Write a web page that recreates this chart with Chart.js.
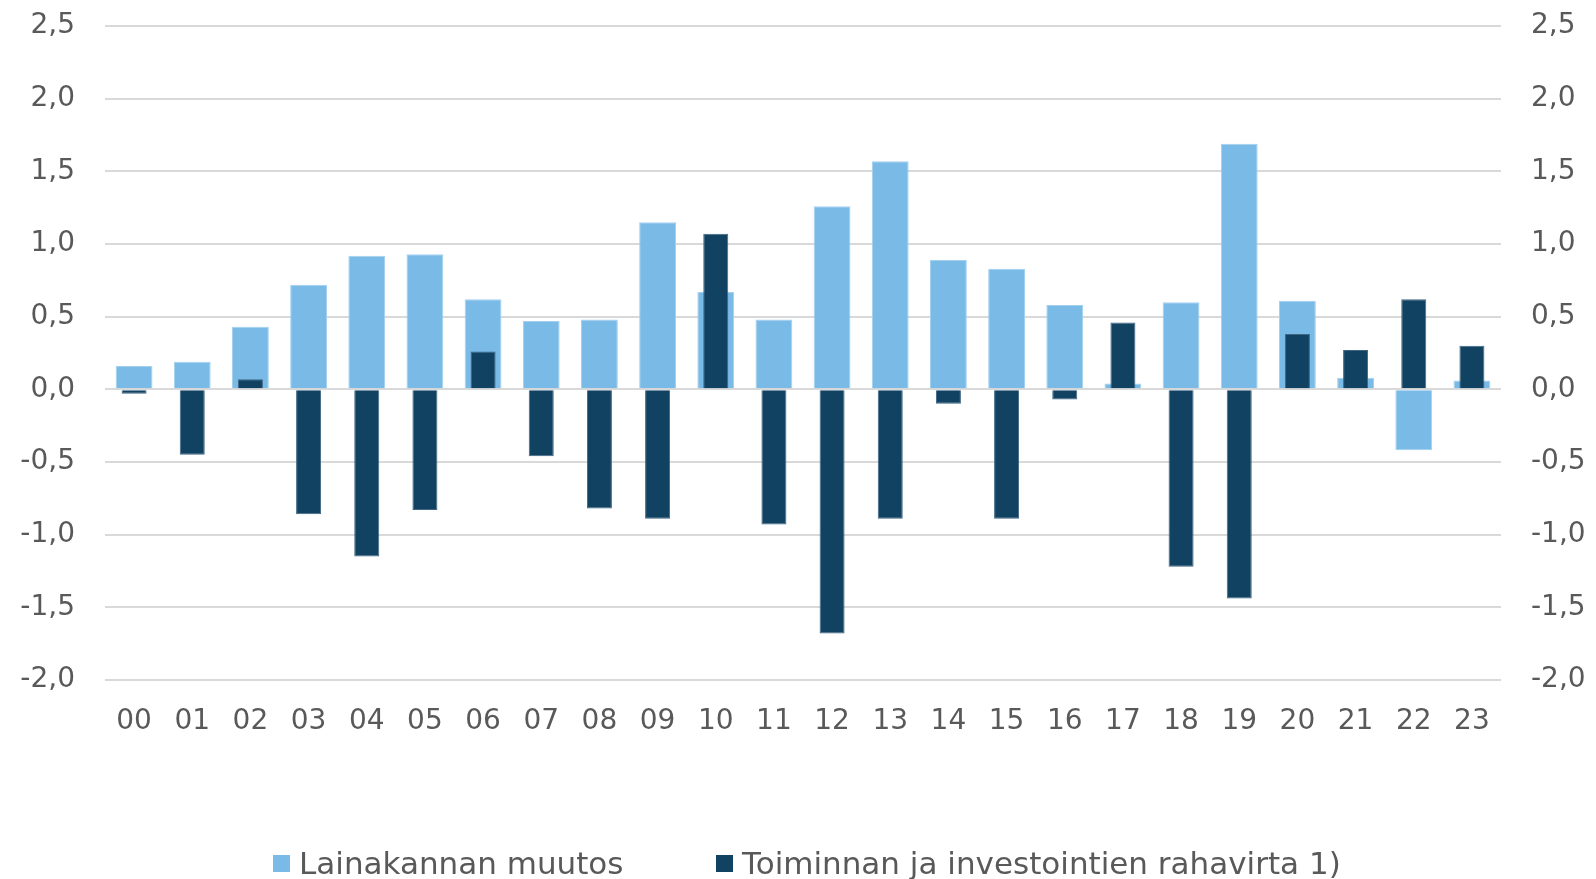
<!DOCTYPE html>
<html>
<head>
<meta charset="utf-8">
<script src="https://cdn.jsdelivr.net/npm/chart.js@4/dist/chart.umd.min.js"></script>
<style>
  html, body { margin: 0; padding: 0; background: #fff; overflow: hidden; }
  #wrap { position: relative; width: 1596px; height: 879px; }
  .leg { position: absolute; top: 846px; height: 34px; display: flex; align-items: center;
         font-family: "DejaVu Sans", sans-serif; font-size: 31px; color: #595959; white-space: nowrap; }
  .leg i { display: inline-block; width: 17px; height: 17px; margin-right: 9px; }
</style>
</head>
<body>
<div id="wrap">
  <canvas id="chart" width="1596" height="879"></canvas>
  <div class="leg" style="left:273px"><i style="background:#79bae7"></i><span id="lab0"></span></div>
  <div class="leg" style="left:716px"><i style="background:#124262"></i><span id="lab1"></span></div>
</div>
<script>
// Vuodet (x-akseli)
const years = ['00','01','02','03','04','05','06','07','08','09','10','11',
               '12','13','14','15','16','17','18','19','20','21','22','23'];

// Lainakannan muutos, mrd. euroa (luettu kuvasta)
const loanChange = [0.16, 0.19, 0.43, 0.72, 0.92, 0.93, 0.62, 0.47, 0.48, 1.15, 0.67, 0.48,
                    1.26, 1.57, 0.89, 0.83, 0.58, 0.04, 0.60, 1.69, 0.61, 0.08, -0.42, 0.06];

// Toiminnan ja investointien rahavirta
const cashFlow = [-0.03, -0.45, 0.07, -0.86, -1.15, -0.83, 0.26, -0.46, -0.82, -0.89, 1.07, -0.93,
                  -1.68, -0.89, -0.10, -0.89, -0.07, 0.46, -1.22, -1.44, 0.38, 0.27, 0.62, 0.30];

const seriesNames = ['Lainakannan muutos', 'Toiminnan ja investointien rahavirta 1)'];

const yMin = -2.0;
const yMax = 2.5;
const yStep = 0.5;

const tickColor = '#595959';
const gridColor = '#d9d9d9';
const tickFont = { family: 'DejaVu Sans', size: 28 };

// Legenda on tehty HTML:lla, jotta valit saadaan kohdalleen
document.getElementById('lab0').textContent = seriesNames[0];
document.getElementById('lab1').textContent = seriesNames[1];

function formatTick(value) {
    return value.toFixed(1).replace('.', ',');
}

// y-akselien leveys kiinni, ja ei ylimaaraista reunaa ylos/alas
function fixYAxis(width) {
    return function (scale) {
        scale.width = width;
        scale.paddingTop = 0;
        scale.paddingBottom = 0;
    };
}

let ctx = document.getElementById('chart').getContext('2d');
let chart = new Chart(ctx, {
    type: 'bar',
    data: {
        labels: years,
        datasets: [
            {
                label: seriesNames[0],
                data: loanChange,
                backgroundColor: '#79bae7',
                borderColor: '#a3d0ef',
                borderWidth: 1,
                grouped: false,
                barPercentage: 0.633,
                categoryPercentage: 1.0,
                order: 2
            },
            {
                label: seriesNames[1],
                data: cashFlow,
                backgroundColor: '#124262',
                borderColor: '#3f6684',
                borderWidth: 1,
                grouped: false,
                barPercentage: 0.43,
                categoryPercentage: 1.0,
                order: 1
            }
        ]
    },
    options: {
        responsive: false,
        animation: false,
        devicePixelRatio: 1,
        layout: { padding: { top: 26, left: 0, right: 0, bottom: 0 } },
        plugins: {
            legend: { display: false },
            tooltip: { enabled: false }
        },
        scales: {
            x: {
                grid: { display: false },
                border: { display: false },
                ticks: { color: tickColor, font: tickFont, padding: 17, maxRotation: 0 },
                afterFit: function (scale) { scale.height = 199; }
            },
            y: {
                position: 'left',
                min: yMin,
                max: yMax,
                grid: { color: gridColor, lineWidth: 2, drawTicks: false },
                border: { display: false },
                ticks: { stepSize: yStep, color: tickColor, font: tickFont, padding: 30, callback: formatTick },
                afterFit: fixYAxis(105)
            },
            y2: {
                position: 'right',
                min: yMin,
                max: yMax,
                grid: { display: false, drawTicks: false },
                border: { display: false },
                ticks: { stepSize: yStep, color: tickColor, font: tickFont, padding: 30, callback: formatTick },
                afterFit: fixYAxis(95)
            }
        }
    }
});
</script>
</body>
</html>
